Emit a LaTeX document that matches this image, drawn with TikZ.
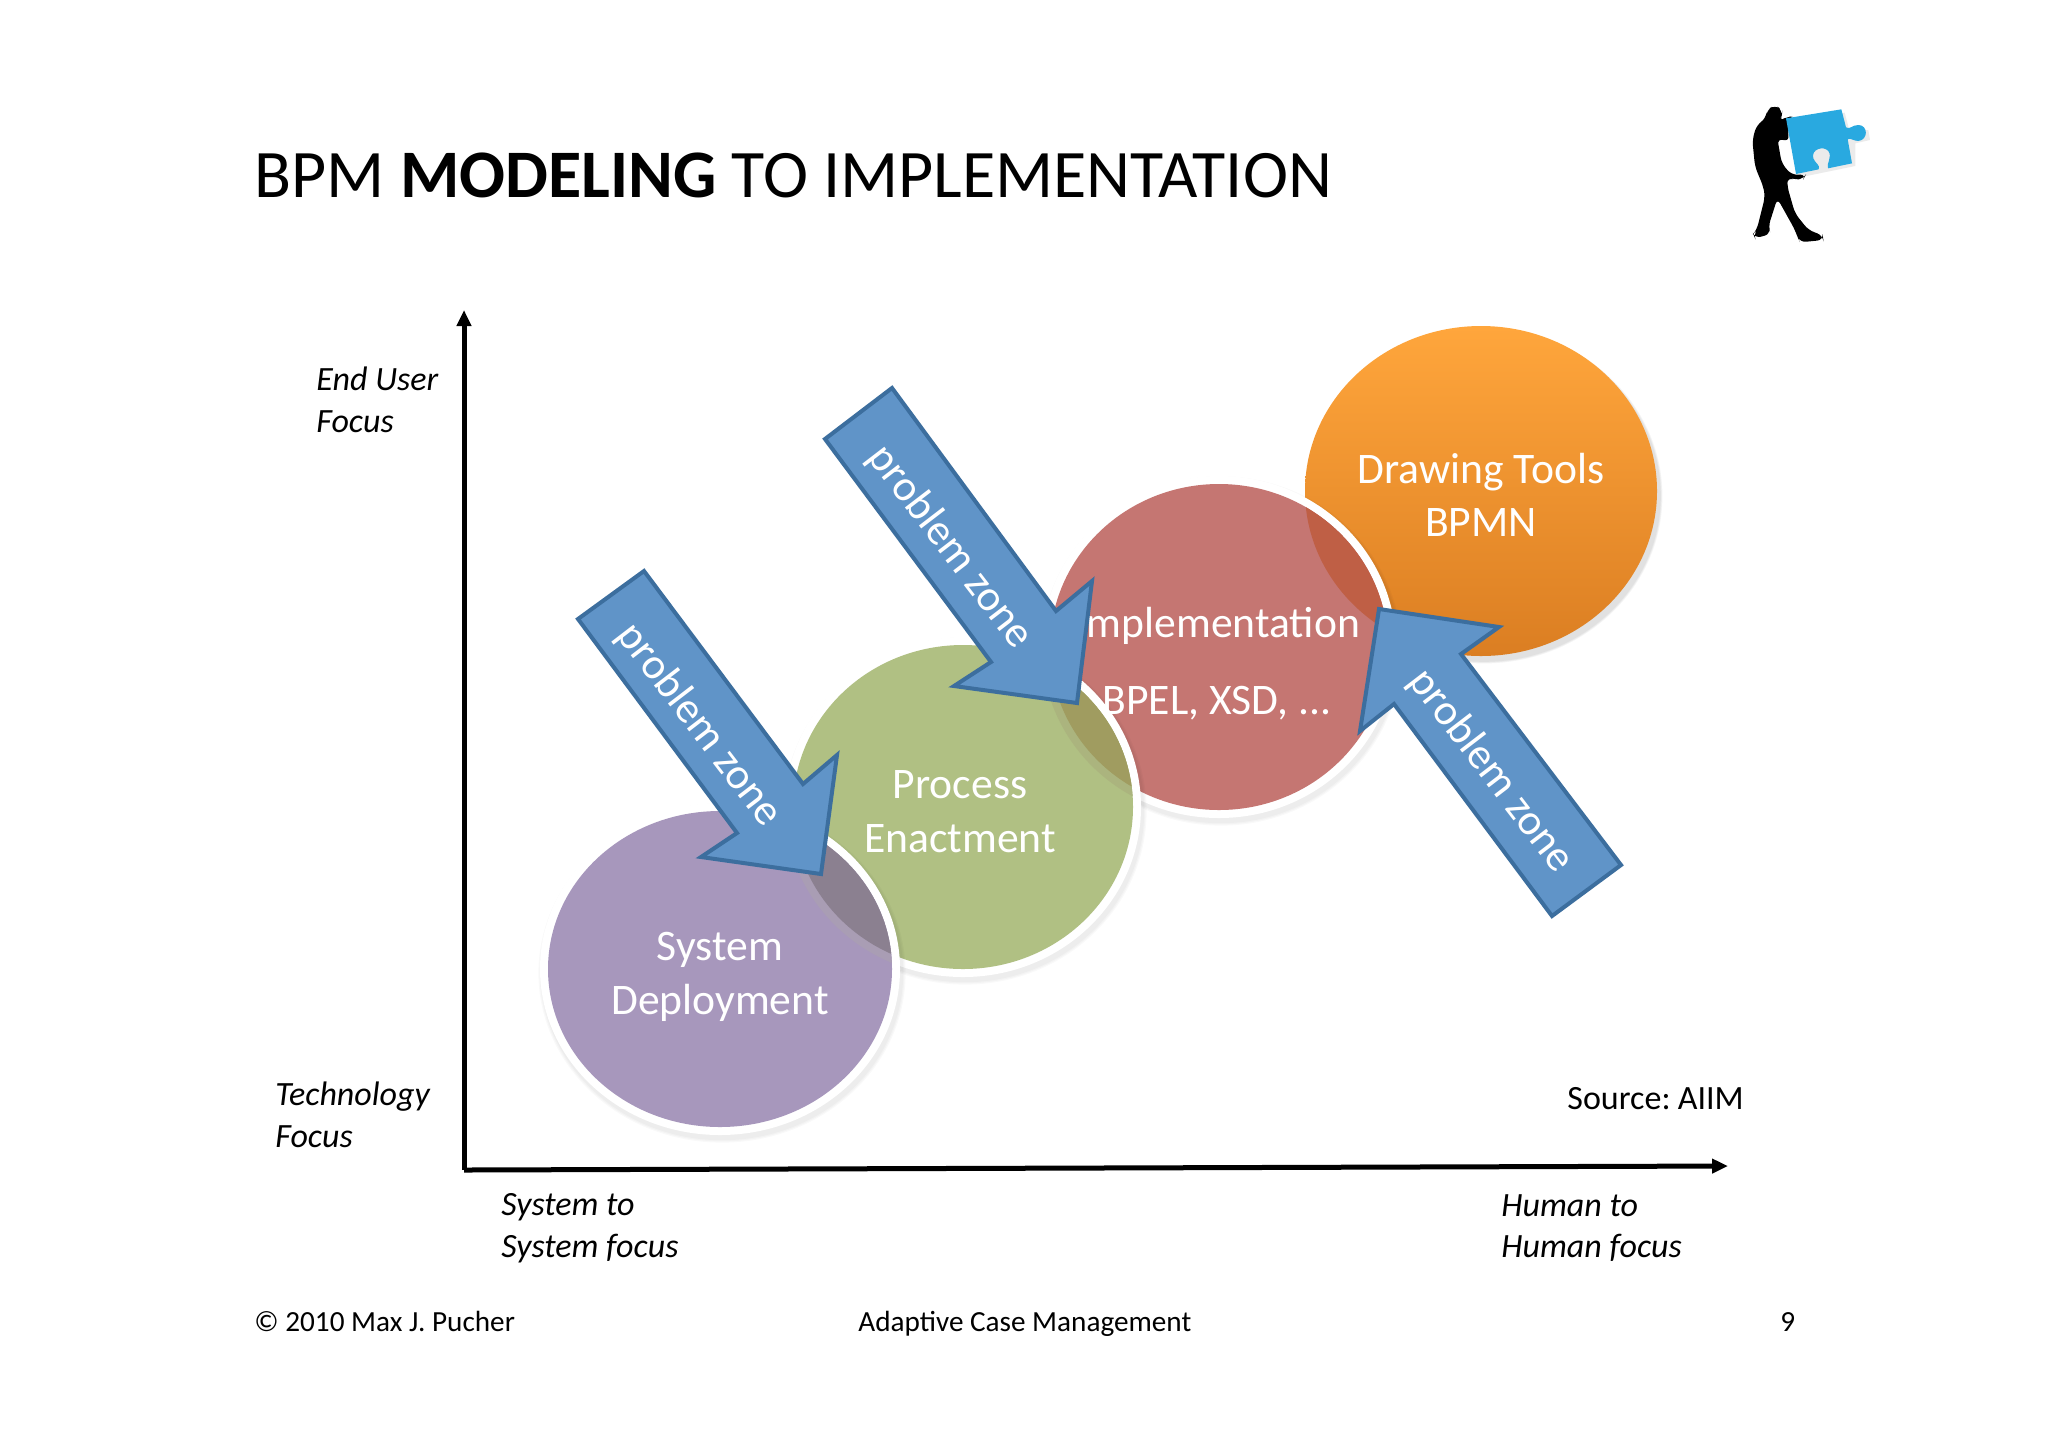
\documentclass[tikz,border=0pt]{standalone}
\usepackage{fontspec}
\setmainfont{Carlito}
\definecolor{arrowfill}{HTML}{6094C8}
\definecolor{arrowline}{HTML}{3C6E9E}
\definecolor{purplefill}{HTML}{A797BC}
\definecolor{purpledark}{HTML}{8B8090}
\definecolor{purpleband}{HTML}{A99DB4}
\definecolor{greenfill}{HTML}{B0C083}
\definecolor{greendark}{HTML}{A09C60}
\definecolor{greenband}{HTML}{ABB47E}
\definecolor{redfill}{HTML}{C57672}
\definecolor{reddark}{HTML}{BF5F45}
\definecolor{orangetop}{HTML}{FFA63C}
\definecolor{orangebot}{HTML}{DB7E22}
\definecolor{puzzle}{HTML}{29A9E0}
\newcommand{\Soft}[4]{%
  \foreach \k in {1,2,3}{\fill[black,opacity=0.025] (#1+2,#2+4) ellipse [x radius={#3+8+\k*1.2},y radius={#4+8+\k*1.2}];}}
\newcommand{\SoftO}[4]{%
  \foreach \k in {1,2,3}{\fill[black,opacity=0.04] (#1+3,#2+5) ellipse [x radius={#3+\k*0.8},y radius={#4+\k*0.8}];}}
\newcommand{\Ring}[4]{\fill[white] (#1,#2) ellipse [x radius={#3+8},y radius={#4+8}];}
\usetikzlibrary{arrows.meta}
\tikzset{
  x=0.5pt,y=-0.5pt,
  stage/.style={text=white,font=\fontsize{21.8}{26}\selectfont,anchor=base,inner sep=0pt},
  zone/.style={text=white,font=\fontsize{21.8}{26}\selectfont,anchor=center,inner sep=0pt,rotate=-52.5},
  zonearrow/.style={fill=arrowfill,draw=arrowline,line width=2pt,line join=miter},
  axis/.style={draw=black,line width=2.5pt,-{Triangle[length=8pt,width=7pt]}},
  caption/.style={font=\itshape\fontsize{17}{20.9}\selectfont,anchor=west,align=left,inner sep=0pt},
  foot/.style={font=\fontsize{14.6}{17}\selectfont,anchor=base west,inner sep=0pt},
}
\begin{document}
\begin{tikzpicture}
\useasboundingbox (0,0) rectangle (2048,1447);
\fill[white] (0,0) rectangle (2048,1447);

% title
\node[anchor=base west,inner sep=0pt,font=\fontsize{34}{41}\selectfont] (title) at (254,197) {BPM \textbf{MODELING} TO IMPLEMENTATION};

% man with puzzle piece
\begin{scope}[shift={(1700,80)},scale=1/3]
  \fill[black,opacity=0.08] (268,125) -- (434,98) -- (448,150) -- (505,150) -- (510,180) -- (466,190) -- (466,258) -- (300,292) -- cycle;
  \fill[black,rounded corners=3pt] (225,75) -- (247,90) -- (245,110) -- (238,125) -- (262,108) -- (285,112) -- (262,150) -- (268,185) -- (232,175) -- (245,250) -- (275,285) -- (318,283) -- (310,298) -- (280,298) -- (262,292) -- (262,320) -- (285,400) -- (325,450) -- (368,466) -- (370,480) -- (300,487) -- (292,470) -- (285,450) -- (232,355) -- (205,440) -- (212,462) -- (165,475) -- (160,462) -- (170,450) -- (195,350) -- (190,320) -- (165,260) -- (157,180) -- (170,135) -- (198,115) -- (200,90) -- cycle;
  \fill[puzzle] (258,115) -- (424,88) -- (438,142) .. controls (450,150) and (455,135) .. (475,135) .. controls (505,135) and (505,180) .. (475,183) .. controls (460,183) and (450,172) .. (443,178) -- (456,250) -- (384,265) .. controls (378,250) and (398,232) .. (385,213) .. controls (370,196) and (332,208) .. (340,235) .. controls (345,250) and (362,255) .. (356,268) -- (288,282) -- cycle;
\end{scope}

% axes
\coordinate (origin) at (464,1170);
\coordinate (ytip) at (464,310);
\coordinate (xtip) at (1728,1166);
\draw[axis] (origin) -- (ytip);
\draw[axis] (origin) -- (xtip);

% axis captions
\node[caption] (enduser) at (316,400) {End User\\Focus};
\node[caption] (tech) at (275,1115) {Technology\\Focus};
\node[caption] (sys) at (501,1228) {System to\\System focus};
\node[caption] (hum) at (1501,1228) {Human to\\Human focus};
\node[anchor=base west,inner sep=0pt,font=\fontsize{17}{20}\selectfont] (source) at (1567,1109) {Source:\kern-1.5pt{} AIIM};

% orange
\SoftO{1481}{491}{176}{165}
\shade[top color=orangetop,bottom color=orangebot] (1481,491) ellipse [x radius=176,y radius=165];
% red
\Soft{1219}{647}{169}{163}
\Ring{1219}{647}{169}{163}
\fill[redfill] (1219,647) ellipse [x radius=169,y radius=163];
\begin{scope}
  \clip (1219,647) ellipse [x radius=169,y radius=163];
  \fill[reddark] (1481,491) ellipse [x radius=176,y radius=165];
\end{scope}
% green
\Soft{963}{807}{170}{162}
\Ring{963}{807}{170}{162}
\fill[greenfill] (963,807) ellipse [x radius=170,y radius=162];
\begin{scope}
  \clip (963,807) ellipse [x radius=170,y radius=162];
  \fill[greenband] (1219,647) ellipse [x radius=177,y radius=171];
  \fill[greendark] (1219,647) ellipse [x radius=169,y radius=163];
\end{scope}
% purple
\Soft{720}{969}{172}{158}
\Ring{720}{969}{172}{158}
\fill[purplefill] (720,969) ellipse [x radius=172,y radius=158];
\begin{scope}
  \clip (720,969) ellipse [x radius=172,y radius=158];
  \fill[purpleband] (963,807) ellipse [x radius=178,y radius=170];
  \fill[purpledark] (963,807) ellipse [x radius=170,y radius=162];
\end{scope}

% stage labels
\node[stage] (draw) at (1481,483) {Drawing Tools};
\node[stage] (bpmn) at (1481,536) {BPMN};
\node[stage] (impl) at (1218,637) {Implementation};
\node[stage] (bpel) at (1217,714) {BPEL, XSD, ...};
\node[stage] (proc) at (960,798) {Process};
\node[stage] (enac) at (960,852) {Enactment};
\node[stage] (syst) at (720,960) {System};
\node[stage] (depl) at (720,1014) {Deployment};

% problem-zone arrows
\draw[zonearrow] (644,571) -- (803,784) -- (837,755) -- (821,874) -- (701,857) -- (737,833) -- (578,619) -- cycle;
\draw[zonearrow] (892,388) -- (1056,611) -- (1092,581) -- (1077,703) -- (954,686) -- (991,662) -- (825,439) -- cycle;
\draw[zonearrow] (1379,609) -- (1499,627) -- (1461,654) -- (1621,865) -- (1552,916) -- (1394,704) -- (1360,731) -- cycle;
\node[zone] (pz1) at (699,725) {problem zone};
\node[zone] (pz2) at (950,547) {problem zone};
\node[zone] (pz3) at (1491,771) {problem zone};

% footer
\node[foot] (copy) at (254,1331.5) {© 2010 Max J. Pucher};
\node[foot] (acm) at (858,1331.5) {Adaptive Case Management};
\node[foot] (page) at (1780,1331.5) {9};
\end{tikzpicture}
\end{document}
